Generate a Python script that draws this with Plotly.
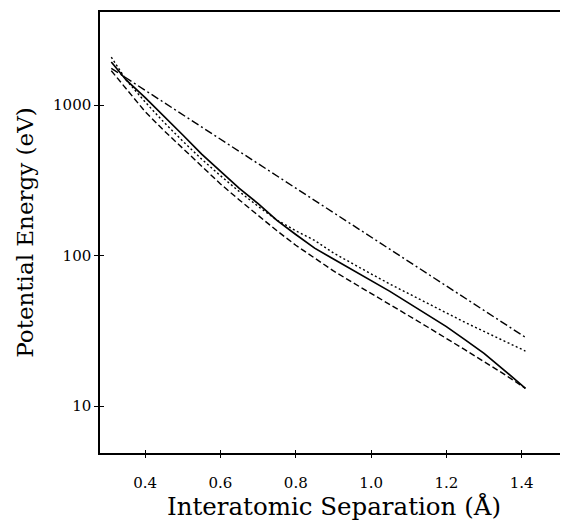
import plotly.graph_objects as go

# Interatomic separation (Å)
x_grid = [0.31, 0.35, 0.40, 0.45, 0.50, 0.55, 0.60, 0.65, 0.70, 0.75, 0.80, 0.85,
          0.90, 0.95, 1.00, 1.05, 1.10, 1.15, 1.20, 1.25, 1.30, 1.35, 1.41]

# Potential energy (eV)
solid_vals = [1932, 1462, 1120, 845, 632, 472, 361, 279, 221, 171, 138, 112,
              94.8, 80.5, 68.5, 57.8, 48.3, 40.4, 33.7, 27.5, 22.4, 17.6, 13.1]
dotted_vals = [2080, 1462, 1047, 767, 575, 437, 339, 266, 212, 172, 146, 126,
               104, 88.1, 75.5, 64.6, 55.6, 47.9, 41.4, 35.9, 31.3, 27.2, 23.2]
dashed_vals = [1690, 1288, 902, 676, 513, 389, 299, 234, 184, 146, 117, 96.6,
               79.1, 66.4, 56.2, 47.4, 39.8, 33.5, 28.2, 23.6, 19.7, 16.5, 13.1]

x_dashdot = [0.31, 0.60, 0.90, 1.20, 1.41]
dashdot_vals = [1754, 593, 193, 62.8, 28.6]

x_ticks = [0.4, 0.6, 0.8, 1.0, 1.2, 1.4]
x_ticktext = ["0.4", "0.6", "0.8", "1.0", "1.2", "1.4"]
y_ticks = [10, 100, 1000]
y_ticktext = ["10", "100", "1000"]

FONT = "DejaVu Serif"

fig = go.Figure()
line_w = 1.4
fig.add_trace(go.Scatter(x=x_dashdot, y=dashdot_vals, mode="lines",
                         line=dict(color="black", width=line_w, dash="8px,3px,2px,3px")))
fig.add_trace(go.Scatter(x=x_grid, y=dotted_vals, mode="lines",
                         line=dict(color="black", width=line_w, dash="2px,2.5px")))
fig.add_trace(go.Scatter(x=x_grid, y=dashed_vals, mode="lines",
                         line=dict(color="black", width=line_w, dash="6px,3px")))
fig.add_trace(go.Scatter(x=x_grid, y=solid_vals, mode="lines",
                         line=dict(color="black", width=1.7)))
# empty traces to activate overlay axes (visible tick marks)
fig.add_trace(go.Scatter(x=[], y=[], xaxis="x2", yaxis="y2", showlegend=False))
fig.add_trace(go.Scatter(x=[], y=[], xaxis="x3", yaxis="y2", showlegend=False))

xr = [0.28, 1.523]
yr = [0.688, 3.618]

# page body has an 8px margin, so the figure is sized/margined to compensate
fig.update_layout(
    width=560, height=513,
    margin=dict(l=92, r=0, t=4, b=68),
    paper_bgcolor="white", plot_bgcolor="white",
    showlegend=False,
    font=dict(family=FONT, color="black", size=15),
    xaxis=dict(range=xr, tickvals=x_ticks, ticktext=x_ticktext,
               showgrid=False, zeroline=False, showline=True, linecolor="black",
               linewidth=1.5, mirror=True, ticks="outside", ticklen=3,
               tickcolor="black", tickwidth=1.2, ticklabelstandoff=12,
               tickfont=dict(family=FONT, size=15),
               title=dict(text="Interatomic Separation (Å)",
                          font=dict(family=FONT, size=24.5), standoff=4)),
    yaxis=dict(type="log", range=yr, tickvals=y_ticks, ticktext=y_ticktext,
               showgrid=False, zeroline=False, showline=True, linecolor="black",
               linewidth=1.5, ticks="outside", ticklen=4,
               tickcolor="black", tickwidth=1.2,
               tickfont=dict(family=FONT, size=15),
               title=dict(text="Potential Energy (eV)",
                          font=dict(family=FONT, size=23), standoff=13)),
    xaxis2=dict(range=xr, overlaying="x", tickvals=x_ticks, showticklabels=False,
                showgrid=False, zeroline=False, ticks="inside", ticklen=3,
                tickcolor="black", tickwidth=1.2, side="bottom"),
    xaxis3=dict(range=xr, overlaying="x", tickvals=x_ticks, showticklabels=False,
                showgrid=False, zeroline=False, ticks="outside", ticklen=3,
                tickcolor="black", tickwidth=1.2, side="bottom"),
    yaxis2=dict(type="log", range=yr, overlaying="y", tickvals=y_ticks,
                showticklabels=False, showgrid=False, zeroline=False,
                ticks="inside", ticklen=4, tickcolor="black", tickwidth=1.2,
                side="left"),
)

fig.write_html("out.html")
